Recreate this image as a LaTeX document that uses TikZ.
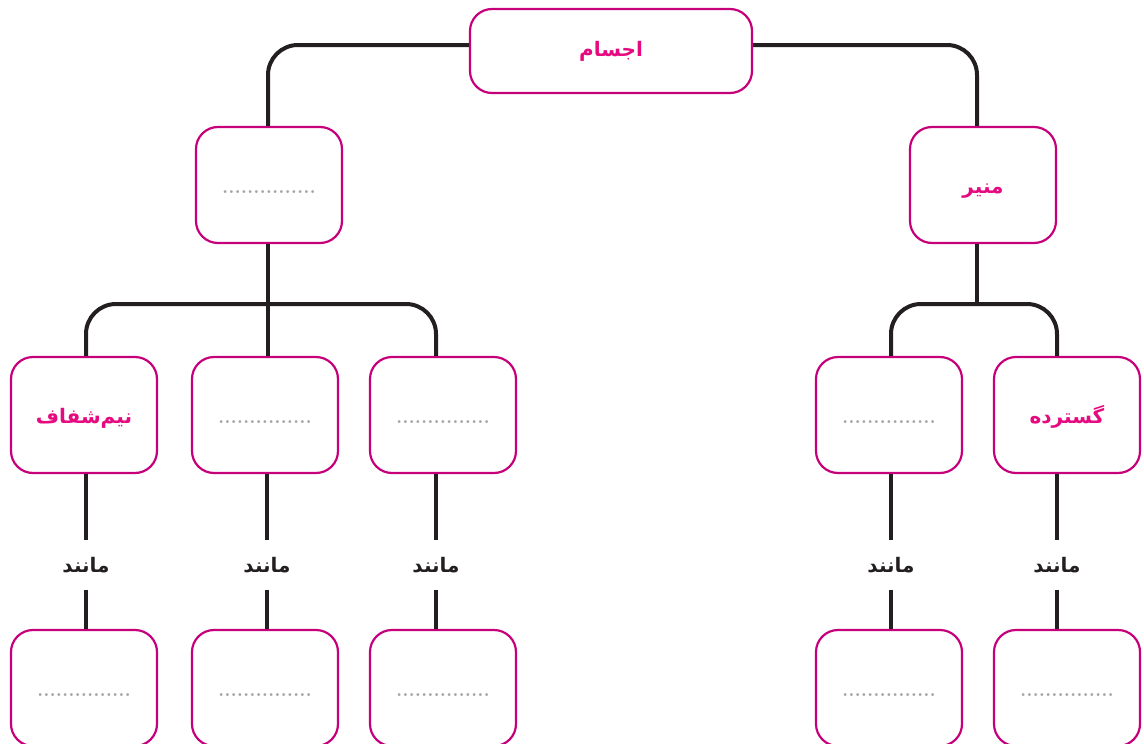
\documentclass[tikz,border=0pt]{standalone}
\usepackage{fontspec}
\newfontfamily\arabicfont[Script=Arabic]{DejaVu Sans}
\TeXXeTstate=1
\definecolor{boxline}{RGB}{198,0,122}
\definecolor{boxtext}{RGB}{230,10,128}
\definecolor{linkline}{RGB}{35,31,32}
\definecolor{dotgray}{RGB}{165,165,165}
\newcommand{\fa}[1]{{\arabicfont\bfseries\beginR #1\endR}}
\newcommand{\blank}{\textcolor{dotgray}{\bfseries ...............}}

\begin{document}
\begin{tikzpicture}[x=1pt,y=-1pt,
  box/.style={draw=boxline,line width=2.2pt,rounded corners=22pt,fill=white,
    minimum width=146pt,minimum height=116pt,inner sep=0pt,text=boxtext,
    text height=17pt,text depth=0pt,font=\fontsize{20}{20}\selectfont},
  conn/.style={draw=linkline,line width=4pt,rounded corners=30pt},
  like/.style={inner sep=0pt,minimum height=49pt,text=linkline,font=\fontsize{20}{20}\selectfont}]
  \useasboundingbox (0,0) rectangle (1144,744);

  \node[box,minimum width=282pt,minimum height=84pt,text height=,text depth=] (root) at (611,51) {\fa{اجسام}};
  \node[box] (a) at (269,185) {\blank};
  \node[box] (m) at (983,185) {\fa{منیر}};

  \node[box] (b1) at (84,415) {\fa{نیم‌شفاف}};
  \node[box] (b2) at (265,415) {\blank};
  \node[box] (b3) at (443,415) {\blank};
  \node[box] (g1) at (889,415) {\blank};
  \node[box] (g2) at (1067,415) {\fa{گسترده}};

  % labels between boxes and examples
  \node[like] (k1) at (86,565) {\fa{مانند}};
  \node[like] (k2) at (267,565) {\fa{مانند}};
  \node[like] (k3) at (436,565) {\fa{مانند}};
  \node[like] (k4) at (891,565) {\fa{مانند}};
  \node[like] (k5) at (1057,565) {\fa{مانند}};

  \node[box] (c1) at (84,688) {\blank};
  \node[box] (c2) at (265,688) {\blank};
  \node[box] (c3) at (443,688) {\blank};
  \node[box] (c4) at (889,688) {\blank};
  \node[box] (c5) at (1067,688) {\blank};

  \coordinate (ja) at (268,304);
  \coordinate (jm) at (977,304);

  \draw[conn] ([yshift=6pt]root.west) -| ([xshift=-1pt]a.north);
  \draw[conn] ([yshift=6pt]root.east) -| ([xshift=-6pt]m.north);
  \draw[conn] ([xshift=-1pt]a.south) -- (ja |- b2.north);
  \draw[conn] (k1 |- b1.north) |- (ja) -| (k3 |- b3.north);
  \draw[conn] ([xshift=-6pt]m.south) -- (jm);
  \draw[conn] (k4 |- g1.north) |- (jm) -| (k5 |- g2.north);

  \foreach \b/\k/\c in {b1/k1/c1,b2/k2/c2,b3/k3/c3,g1/k4/c4,g2/k5/c5}{
    \draw[conn] (\k |- \b.south) -- (\k.north);
    \draw[conn] (\k.south) -- (\k |- \c.north);
  }
\end{tikzpicture}
\end{document}
